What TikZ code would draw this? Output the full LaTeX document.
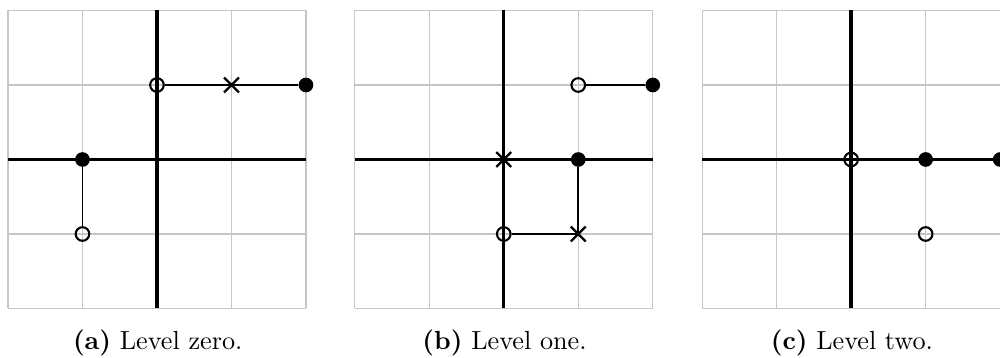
\documentclass[tikz,border=0pt]{standalone}
\usetikzlibrary{shapes.misc}
\begin{document}
\begin{tikzpicture}[x=1cm,y=1cm,
  gridline/.style={gray!45, line width=0.45pt},
  axisline/.style={black, line width=1.3pt},
  fdot/.style={circle, fill=black, inner sep=0pt, minimum size=5.6pt},
  odot/.style={circle, draw=black, line width=0.8pt, inner sep=0pt, minimum size=5.2pt},
  xmark/.style={cross out, draw=black, line width=0.9pt, inner sep=0pt, minimum size=4.8pt},
  link/.style={black, line width=0.7pt},
  capt/.style={anchor=base, inner sep=0pt, font=\fontsize{10}{12}\selectfont}]
\useasboundingbox (-2.107,-2.664) rectangle (11.316,2.141);

% ---------- (a) ----------
\begin{scope}[shift={(0,0)}]
  \draw[gridline] (-2,-2) grid (2,2);
  \draw[axisline] (-2,0) -- (2,0);
  \draw[axisline] (0,-2) -- (0,2);
  \node[fdot] (a-f1) at (-1,0) {};
  \node[odot] (a-o1) at (-1,-1) {};
  \node[odot] (a-o2) at (0,1) {};
  \node[xmark] (a-x1) at (1,1) {};
  \node[fdot] (a-f2) at (2,1) {};
  \draw[link] (a-f1) -- (a-o1);
  \draw[link] (a-o2) -- (a-f2);
  \node[capt] (a-cap) at (0.01,-2.557) {\textbf{(a)} Level zero.};
\end{scope}

% ---------- (b) ----------
\begin{scope}[shift={(4.655,0)}]
  \draw[gridline] (-2,-2) grid (2,2);
  \draw[axisline] (-2,0) -- (2,0);
  \draw[axisline] (0,-2) -- (0,2);
  \node[odot] (b-o1) at (1,1) {};
  \node[fdot] (b-f1) at (2,1) {};
  \node[xmark] (b-x1) at (0,0) {};
  \node[fdot] (b-f2) at (1,0) {};
  \node[xmark] (b-x2) at (1,-1) {};
  \node[odot] (b-o2) at (0,-1) {};
  \draw[link] (b-o1) -- (b-f1);
  \draw[link] (b-f2) -- (b-x2.center) -- (b-o2);
  \node[capt] (b-cap) at (0.01,-2.557) {\textbf{(b)} Level one.};
\end{scope}

% ---------- (c) ----------
\begin{scope}[shift={(9.318,0)}]
  \draw[gridline] (-2,-2) grid (2,2);
  \draw[axisline] (-2,0) -- (2,0);
  \draw[axisline] (0,-2) -- (0,2);
  \node[odot] (c-o1) at (0,0) {};
  \node[fdot] (c-f1) at (1,0) {};
  \node[fdot] (c-f2) at (2,0) {};
  \node[odot] (c-o2) at (1,-1) {};
  \node[capt] (c-cap) at (0.01,-2.557) {\textbf{(c)} Level two.};
\end{scope}
\end{tikzpicture}
\end{document}
